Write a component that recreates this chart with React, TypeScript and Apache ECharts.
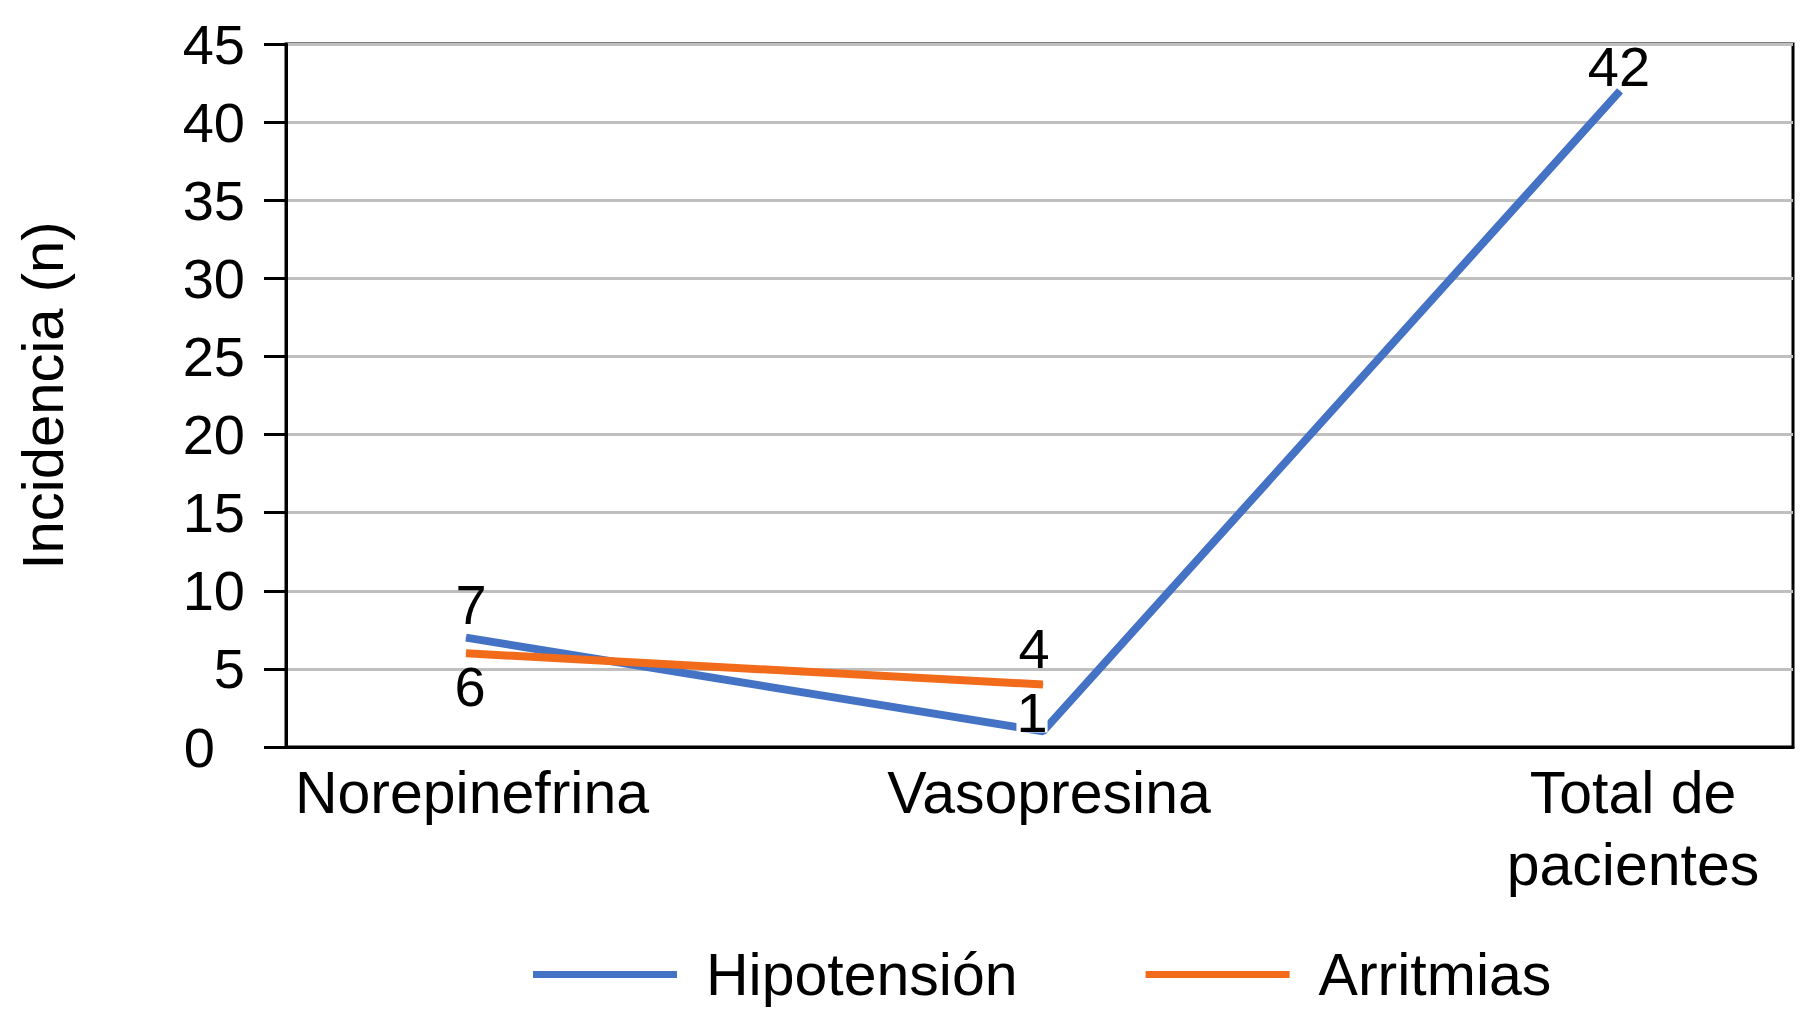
import React, { useEffect, useRef } from "react";
import * as echarts from "echarts";

const categories = ["Norepinefrina", "Vasopresina", "Total de\npacientes"];
const hipotension = [7, 1, 42];
const arritmias: (number | null)[] = [6, 4, null];
const seriesNames = ["Hipotensión", "Arritmias"];
const yAxisTitle = "Incidencia (n)";

const BLUE = "#4472C4";
const ORANGE = "#F26B1A";
const FONT = "'Liberation Sans', Arial, Helvetica, sans-serif";

// label placement styles (offsets relative to the point)
const hipoLabelOffsets = [
  [5, -33],
  [-11, -19],
  [-1, -24],
];
const arrLabelOffsets = [
  [4, 33],
  [-9, -36],
  [0, 0],
];

export default function App() {
  const ref = useRef<HTMLDivElement>(null);
  useEffect(() => {
    if (!ref.current) return;
    const chart = echarts.init(ref.current, undefined, { renderer: "svg" });
    const labelBase = {
      show: true,
      position: "inside",
      color: "#000",
      fontSize: 56,
      fontFamily: FONT,
    };
    const hipoData = hipotension.map((v, i) => ({
      value: v,
      label: {
        ...labelBase,
        offset: hipoLabelOffsets[i],
        ...(i === 1
          ? { backgroundColor: "#fff", lineHeight: 40, padding: [0, 0, 0, 0] }
          : {}),
      },
    }));
    const arrData = arritmias.map((v, i) => ({
      value: v === null ? "-" : v,
      label: { ...labelBase, offset: arrLabelOffsets[i] },
    }));
    const option = {
      animation: false,
      backgroundColor: "#fff",
      textStyle: { fontFamily: FONT, color: "#000" },
      grid: [
        {
          left: 286,
          right: 7,
          top: 44,
          bottom: 276,
          show: true,
          borderColor: "#000",
          borderWidth: 3,
          containLabel: false,
        },
        {
          left: 466,
          right: 180,
          top: 44,
          bottom: 276,
          containLabel: false,
        },
      ],
      xAxis: [
        {
          type: "category",
          gridIndex: 0,
          data: categories,
          axisLine: { show: true, lineStyle: { color: "#000", width: 3 } },
          axisTick: { show: false },
          axisLabel: { show: false },
          splitLine: { show: false },
        },
        {
          type: "category",
          gridIndex: 1,
          data: categories,
          boundaryGap: false,
          axisLine: { show: false },
          axisTick: { show: false },
          splitLine: { show: false },
          axisLabel: {
            show: true,
            color: "#000",
            fontSize: 59,
            fontFamily: FONT,
            margin: 10,
            lineHeight: 72,
            interval: 0,
            align: "center",
            padding: [0, 0, 0, 12],
            formatter: (v: string) =>
              v.indexOf("\n") >= 0
                ? v
                    .split("\n")
                    .map((s) => "{t|" + s + "}")
                    .join("\n")
                : v,
            rich: {
              t: {
                fontSize: 59,
                fontFamily: FONT,
                color: "#000",
                lineHeight: 72,
                padding: [0, 0, 0, 14],
              },
            },
          },
        },
      ],
      yAxis: [
        {
          type: "value",
          gridIndex: 0,
          min: 0,
          max: 45,
          interval: 5,
          name: yAxisTitle,
          nameLocation: "middle",
          nameGap: 215,
          nameRotate: 90,
          nameTextStyle: { color: "#000", fontSize: 58, fontFamily: FONT },
          axisLine: { show: true, lineStyle: { color: "#000", width: 3 } },
          axisTick: {
            show: true,
            length: 22,
            lineStyle: { color: "#000", width: 3 },
          },
          axisLabel: {
            color: "#000",
            fontSize: 56,
            fontFamily: FONT,
            margin: 41,
            formatter: (v: number) => (v === 0 ? "{z|0}" : String(v)),
            rich: {
              z: {
                fontSize: 56,
                fontFamily: FONT,
                color: "#000",
                padding: [0, 30, 0, 0],
              },
            },
          },
          splitLine: { show: true, lineStyle: { color: "#BFBFBF", width: 3 } },
        },
        {
          type: "value",
          gridIndex: 1,
          min: 0,
          max: 45,
          interval: 5,
          show: false,
          splitLine: { show: false },
        },
      ],
      legend: {
        data: seriesNames,
        left: 528,
        top: 940,
        icon: "rect",
        itemWidth: 144,
        itemHeight: 7,
        itemGap: 128,
        textStyle: {
          color: "#000",
          fontSize: 59,
          fontFamily: FONT,
          padding: [0, 0, 0, 24],
        },
      },
      series: [
        {
          name: seriesNames[0],
          type: "line",
          xAxisIndex: 1,
          yAxisIndex: 1,
          data: hipoData,
          symbol: "circle",
          symbolSize: 1,
          showSymbol: true,
          itemStyle: { color: BLUE },
          lineStyle: { color: BLUE, width: 8 },
          z: 3,
        },
        {
          name: seriesNames[1],
          type: "line",
          xAxisIndex: 1,
          yAxisIndex: 1,
          data: arrData,
          symbol: "circle",
          symbolSize: 1,
          showSymbol: true,
          itemStyle: { color: ORANGE },
          lineStyle: { color: ORANGE, width: 8 },
          z: 4,
        },
      ],
    };
    chart.setOption(option as any);
    return () => chart.dispose();
  }, []);
  return (
    <div
      ref={ref}
      style={{ position: "absolute", left: 0, top: 0, width: 1800, height: 1023 }}
    />
  );
}
